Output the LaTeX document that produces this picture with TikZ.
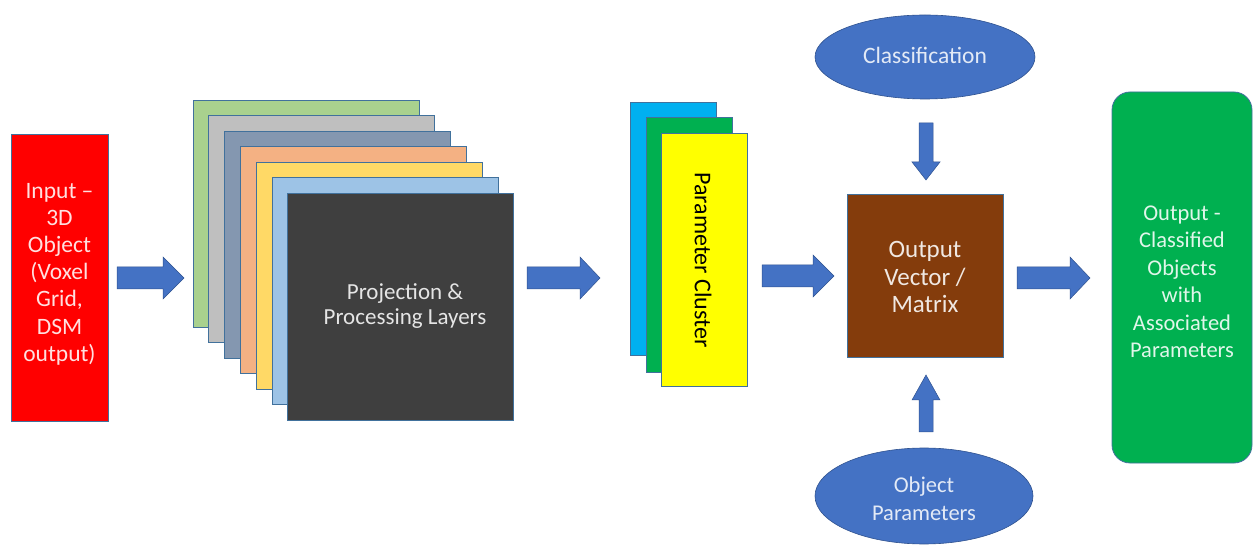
\documentclass[tikz,border=0pt]{standalone}
\usepackage{fontspec}
\setmainfont{Carlito}
\usetikzlibrary{shapes.geometric,calc}
\definecolor{arrowfill}{HTML}{4472C4}
\definecolor{arrowedge}{HTML}{2F528F}
\definecolor{edgeblue}{HTML}{41719C}
\definecolor{lgreen}{HTML}{A9D18E}
\definecolor{lgray}{HTML}{BFBFBF}
\definecolor{bgray}{HTML}{8497B0}
\definecolor{lorange}{HTML}{F4B183}
\definecolor{lyellow}{HTML}{FFD966}
\definecolor{lblue}{HTML}{9DC3E6}
\definecolor{dgray}{HTML}{3F3F3F}
\definecolor{pblue}{HTML}{00B0F0}
\definecolor{pgreen}{HTML}{00B050}
\definecolor{pyellow}{HTML}{FFFF00}
\definecolor{brown}{HTML}{843C0C}
\definecolor{outgreen}{HTML}{00B050}
\definecolor{inred}{HTML}{FF0000}
\tikzset{
  box/.style={draw=edgeblue, line width=0.8pt, inner sep=0pt, rectangle},
  txt/.style={align=center, inner sep=0pt},
  barrow/.style={fill=arrowfill, draw=arrowedge, line width=0.5pt},
  oval/.style={ellipse, fill=arrowfill, draw=arrowedge, line width=0.6pt, inner sep=0pt},
}
\newcommand{\hbarrow}[4]{%
  \draw[barrow] (#1,#4-11) -- (#2,#4-11) -- (#2,#4-21) -- (#3,#4) -- (#2,#4+21) -- (#2,#4+11) -- (#1,#4+11) -- cycle;}
\begin{document}
\begin{tikzpicture}[x=1pt,y=-1pt]
\useasboundingbox (0,0) rectangle (1254,545);

% Input box
\node[box, fill=inred, minimum width=97pt, minimum height=287pt] (input) at (59.5,278) {};
\node[txt, font=\fontsize{23.5}{27.2}\selectfont, text=white!88!red] (inputtxt) at (59.5,274) {Input –\\3D\\Object\\(Voxel\\Grid,\\DSM\\output)};

% Layers
\foreach \i/\c in {0/lgreen,1/lgray,2/bgray,3/lorange,4/lyellow,5/lblue}{
  \node[box, fill=\c, minimum width=226pt, minimum height=227pt] (layer\i) at (306+15.83*\i, 213.5+15.5*\i) {};
}
\node[box, fill=dgray, minimum width=226pt, minimum height=227pt] (layer6) at (400.5,306.5) {};
\node[txt, font=\fontsize{23}{25.5}\selectfont, text=white!90!black] (projtxt) at (405,306) {Projection \&\\Processing Layers};

% Parameter cluster
\node[box, fill=pblue, minimum width=86pt, minimum height=253pt] (pc1) at (673,228.5) {};
\node[box, fill=pgreen, minimum width=86pt, minimum height=255pt] (pc2) at (689,244.5) {};
\node[box, fill=pyellow, minimum width=86pt, minimum height=253pt] (pc3) at (704.5,259.5) {};
\node[txt, font=\fontsize{24}{28}\selectfont, rotate=-90, text=black] (pctxt) at (703,260) {Parameter Cluster};

% Output vector
\node[box, fill=brown, minimum width=156pt, minimum height=163pt] (vec) at (925,275.5) {};
\node[txt, font=\fontsize{25}{27.5}\selectfont, text=white!88!brown] (vectxt) at (925,277) {Output\\Vector /\\Matrix};

% Ellipses
\node[oval, minimum width=220pt, minimum height=84pt] (cls) at (925,57) {};
\node[txt, font=\fontsize{23.5}{28}\selectfont, text=white!85!arrowfill] (clstxt) at (925,55) {Classification};
\node[oval, minimum width=218pt, minimum height=96pt] (objp) at (924,496) {};
\node[txt, font=\fontsize{22.5}{28}\selectfont, text=white!85!arrowfill] (objptxt) at (924,499) {Object\\Parameters};

% Output green
\node[draw=edgeblue, line width=0.8pt, fill=outgreen, rounded corners=18pt, minimum width=140pt, minimum height=371pt, inner sep=0pt] (out) at (1182,277.5) {};
\node[txt, font=\fontsize{22.5}{27.5}\selectfont, text=white!88!outgreen] (outtxt) at (1182,282) {Output -\\Classified\\Objects\\with\\Associated\\Parameters};

% Horizontal block arrows
\hbarrow{117}{163}{184}{278}
\hbarrow{527}{580}{600}{278}
\hbarrow{762}{813}{834}{276}
\hbarrow{1017}{1070}{1090}{278}

% Vertical block arrows
\draw[barrow] (919,123) -- (933,123) -- (933,162) -- (940,162) -- (926,180) -- (912,162) -- (919,162) -- cycle;
\draw[barrow] (919,432) -- (933,432) -- (933,400) -- (940,400) -- (926,375) -- (912,400) -- (919,400) -- cycle;
\end{tikzpicture}
\end{document}
